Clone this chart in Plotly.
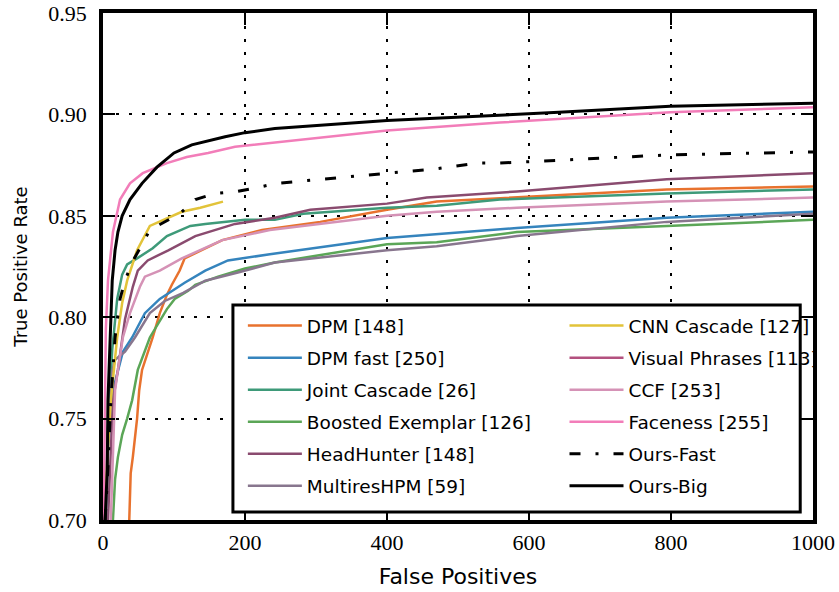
import plotly.graph_objects as go

# ---------------- data ----------------
dpm_x = [37, 39, 42, 48, 51, 55, 70, 80, 90, 97, 108, 115, 168, 224, 306, 400, 470, 583, 794, 1000]
dpm_y = [0.700, 0.723, 0.731, 0.750, 0.764, 0.774, 0.790, 0.802, 0.811, 0.816, 0.823, 0.829, 0.838, 0.843, 0.847, 0.853, 0.857, 0.859, 0.863, 0.8645]

dpmfast_x = [4, 7, 13, 17, 28, 41, 59, 80, 115, 144, 176, 235, 400, 470, 583, 794, 1000]
dpmfast_y = [0.700, 0.735, 0.759, 0.768, 0.783, 0.790, 0.802, 0.809, 0.817, 0.823, 0.828, 0.831, 0.839, 0.841, 0.844, 0.849, 0.852]

joint_x = [3, 7, 13, 20, 27, 34, 48, 70, 90, 123, 144, 200, 242, 282, 400, 470, 559, 794, 1000]
joint_y = [0.700, 0.745, 0.784, 0.809, 0.821, 0.826, 0.829, 0.834, 0.840, 0.845, 0.846, 0.848, 0.848, 0.851, 0.854, 0.855, 0.858, 0.861, 0.863]

boosted_x = [14, 17, 21, 27, 34, 41, 49, 66, 90, 101, 120, 130, 162, 200, 242, 400, 470, 583, 794, 1000]
boosted_y = [0.700, 0.720, 0.731, 0.742, 0.750, 0.759, 0.774, 0.790, 0.804, 0.809, 0.813, 0.816, 0.820, 0.824, 0.827, 0.836, 0.837, 0.842, 0.845, 0.848]

headhunter_x = [7, 10, 14, 21, 31, 42, 49, 63, 92, 130, 186, 242, 292, 400, 456, 583, 794, 1000]
headhunter_y = [0.700, 0.726, 0.759, 0.774, 0.799, 0.815, 0.823, 0.828, 0.833, 0.840, 0.846, 0.849, 0.853, 0.856, 0.859, 0.862, 0.868, 0.871]

multires_x = [4, 7, 13, 17, 31, 45, 66, 87, 113, 123, 144, 190, 242, 400, 470, 583, 794, 1000]
multires_y = [0.700, 0.735, 0.773, 0.779, 0.783, 0.790, 0.802, 0.808, 0.812, 0.814, 0.818, 0.822, 0.827, 0.833, 0.835, 0.840, 0.847, 0.851]

cnn_x = [1, 7, 11, 20, 27, 34, 41, 48, 66, 111, 137, 169]
cnn_y = [0.700, 0.735, 0.759, 0.790, 0.807, 0.818, 0.825, 0.833, 0.845, 0.852, 0.854, 0.857]

visual_x = [0, 100, 200, 400, 600, 800, 1000]
visual_y = [0.45, 0.58, 0.61, 0.635, 0.65, 0.66, 0.67]

ccf_x = [11, 14, 17, 21, 28, 38, 52, 59, 80, 111, 168, 235, 400, 470, 583, 794, 1000]
ccf_y = [0.700, 0.735, 0.764, 0.774, 0.790, 0.802, 0.815, 0.820, 0.823, 0.829, 0.838, 0.843, 0.850, 0.852, 0.854, 0.857, 0.859]

faceness_x = [1, 3, 4, 7, 14, 24, 38, 56, 90, 118, 148, 186, 242, 400, 559, 799, 1000]
faceness_y = [0.700, 0.759, 0.794, 0.818, 0.842, 0.858, 0.866, 0.871, 0.876, 0.879, 0.881, 0.884, 0.886, 0.892, 0.896, 0.901, 0.9035]

oursfast_x = [3, 7, 11, 17, 24, 31, 41, 66, 108, 130, 158, 189, 218, 245, 338, 400, 465, 527, 559, 794, 1000]
oursfast_y = [0.700, 0.726, 0.759, 0.790, 0.809, 0.818, 0.827, 0.843, 0.851, 0.858, 0.861, 0.862, 0.864, 0.866, 0.869, 0.871, 0.873, 0.876, 0.876, 0.880, 0.8815]

oursbig_x = [3, 6, 7, 10, 13, 17, 21, 27, 38, 55, 76, 100, 125, 172, 200, 242, 400, 642, 799, 1000]
oursbig_y = [0.700, 0.725, 0.759, 0.792, 0.818, 0.833, 0.842, 0.850, 0.858, 0.866, 0.874, 0.881, 0.885, 0.889, 0.891, 0.893, 0.897, 0.901, 0.904, 0.9055]

x_ticks = [0, 200, 400, 600, 800, 1000]
y_ticks = [0.70, 0.75, 0.80, 0.85, 0.90, 0.95]

series = [
    ("DPM [148]", dpm_x, dpm_y, "#e8722e", "solid", 2.5, "legend"),
    ("DPM fast [250]", dpmfast_x, dpmfast_y, "#3584bd", "solid", 2.5, "legend"),
    ("Joint Cascade [26]", joint_x, joint_y, "#3e9a79", "solid", 2.5, "legend"),
    ("Boosted Exemplar [126]", boosted_x, boosted_y, "#5ba657", "solid", 2.5, "legend"),
    ("HeadHunter [148]", headhunter_x, headhunter_y, "#8a4b6f", "solid", 2.5, "legend"),
    ("MultiresHPM [59]", multires_x, multires_y, "#88768e", "solid", 2.5, "legend"),
    ("CNN Cascade [127]", cnn_x, cnn_y, "#e2c339", "solid", 2.5, "legend2"),
    ("Visual Phrases [113]", visual_x, visual_y, "#b3517f", "solid", 2.5, "legend2"),
    ("CCF [253]", ccf_x, ccf_y, "#d592b6", "solid", 2.5, "legend2"),
    ("Faceness [255]", faceness_x, faceness_y, "#f27db9", "solid", 2.5, "legend2"),
    ("Ours-Fast", oursfast_x, oursfast_y, "#000000", "11px,15px,3px,15px", 3, "legend2"),
    ("Ours-Big", oursbig_x, oursbig_y, "#000000", "solid", 3, "legend2"),
]

fig = go.Figure()
for name, xs, ys, color, dash, width, leg in series:
    fig.add_trace(go.Scatter(
        x=xs, y=ys, mode="lines", name=name, legend=leg, legendgroup=name,
        line=dict(color=color, width=width, dash=dash),
    ))

tick_font = dict(family="Liberation Serif, DejaVu Serif, serif", size=22, color="black")
legend_common = dict(
    font=dict(family="DejaVu Sans", size=18.5, color="black"),
    bgcolor="rgba(0,0,0,0)", borderwidth=0, orientation="v",
    xanchor="left", yanchor="top", tracegroupgap=5, itemwidth=54,
)

fig.update_layout(
    width=839, height=592,
    margin=dict(l=103, r=26, t=13, b=72),
    paper_bgcolor="white", plot_bgcolor="white",
    showlegend=True,
    legend=dict(x=0.197, y=0.42, **legend_common),
    legend2=dict(x=0.65, y=0.42, **legend_common),
    xaxis=dict(
        range=[0, 1000], tickvals=x_ticks, ticktext=[str(v) for v in x_ticks],
        showline=True, linecolor="black", linewidth=3.5, mirror="ticks",
        ticks="inside", ticklen=12, tickwidth=1.5, tickcolor="black",
        showgrid=True, gridcolor="black", gridwidth=1.5, griddash="3px,10px",
        zeroline=False, tickfont=tick_font, ticklabelstandoff=0, automargin=False,
        title=dict(text="False Positives", font=dict(family="DejaVu Sans", size=22, color="black"), standoff=15),
    ),
    yaxis=dict(
        range=[0.70, 0.95], tickvals=y_ticks, ticktext=[f"{v:.2f}" for v in y_ticks],
        showline=True, linecolor="black", linewidth=3.5, mirror="ticks",
        ticks="inside", ticklen=12, tickwidth=1.5, tickcolor="black",
        showgrid=True, gridcolor="black", gridwidth=1.5, griddash="3px,10px",
        zeroline=False, tickfont=tick_font, ticklabelstandoff=8, automargin=False,
        title=dict(text="True Positive Rate", font=dict(family="DejaVu Sans", size=18, color="black"), standoff=17),
    ),
    shapes=[dict(
        type="rect", xref="paper", yref="paper",
        x0=0.183, x1=0.982, y0=0.016, y1=0.424,
        line=dict(color="black", width=3), fillcolor="white", layer="above",
    )],
)

fig.write_html("out.html", config={"displayModeBar": False},
               post_script="document.body.style.margin='0';")
